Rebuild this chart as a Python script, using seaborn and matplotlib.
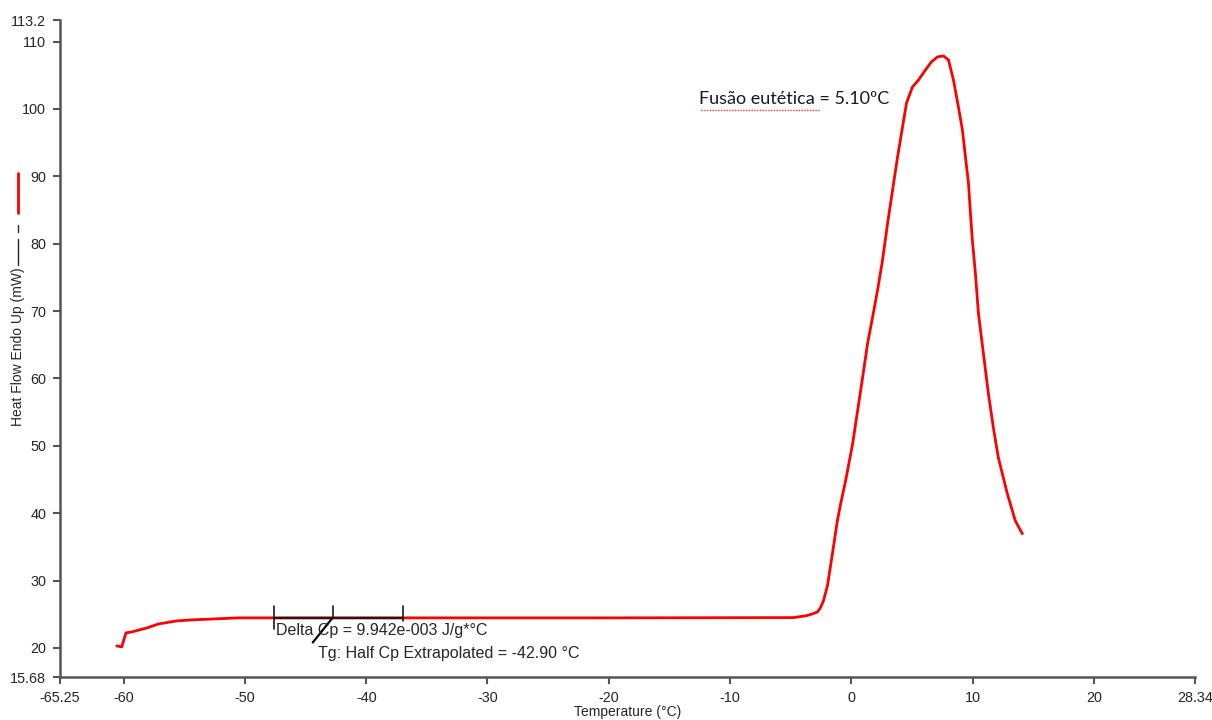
import matplotlib
matplotlib.use("Agg")
import matplotlib.pyplot as plt
from matplotlib.lines import Line2D
import seaborn as sns
import pandas as pd

# ---- data ----
temperature = [-60.57, -60.16, -59.81, -59.31, -58.08, -57.10, -55.61, -54.38, -50.51,
               -47.80, -37.09, -20.64, -4.76, -3.76, -3.18, -2.79, -2.55, -2.30, -1.97,
               -1.56, -1.15, -0.88, -0.47, 0.11, 0.52, 0.93, 1.34, 1.75, 2.16, 2.57,
               2.99, 3.40, 3.81, 4.22, 4.55, 5.04, 5.54, 6.11, 6.60, 7.10, 7.60, 8.01,
               8.42, 8.83, 9.16, 9.41, 9.66, 9.82, 9.98, 10.23, 10.48, 10.89, 11.30,
               11.71, 12.12, 12.86, 13.52, 14.10]
heat_flow = [20.30, 20.15, 22.23, 22.38, 22.97, 23.57, 24.01, 24.16, 24.46,
             24.46, 24.46, 24.46, 24.50, 24.76, 25.06, 25.35, 25.95, 26.99, 29.22,
             33.98, 38.88, 41.41, 44.83, 50.33, 55.24, 60.14, 65.20, 69.06, 73.08, 77.54,
             83.04, 87.95, 92.85, 97.31, 100.88, 103.26, 104.30, 105.79, 106.98, 107.72, 107.87, 107.27,
             104.30, 100.29, 96.87, 92.85, 88.99, 84.53, 80.51, 75.61, 69.66, 63.71, 57.76,
             52.71, 48.25, 42.90, 38.88, 36.95]

x_ticks = [-65.25, -60, -50, -40, -30, -20, -10, 0, 10, 20, 28.34]
x_tick_labels = ["-65.25", "-60", "-50", "-40", "-30", "-20", "-10", "0", "10", "20", "28.34"]
y_ticks = [15.68, 20, 30, 40, 50, 60, 70, 80, 90, 100, 110, 113.2]
y_tick_labels = ["15.68", "20", "30", "40", "50", "60", "70", "80", "90", "100", "110", "113.2"]

tg_bracket_x = [-47.63, -42.78, -36.94]
tg_baseline = 24.46
tg_tick_top = 26.24
tg_tick_bottom = [22.82, 24.46, 24.0]
tg_diag_x = [-44.41, -42.85]
tg_diag_y = [20.8, 24.3]

delta_cp_text = "Delta Cp = 9.942e-003 J/g*°C"
tg_text = "Tg: Half Cp Extrapolated = -42.90 °C"
fusion_text = "Fusão eutética = 5.10ºC"
x_label = "Temperature (°C)"
y_label = "Heat Flow Endo Up (mW)"

# ---- styling ----
sns.set_theme(style="white")
plt.rcParams["font.family"] = ["Liberation Sans", "DejaVu Sans"]

fig = plt.figure(figsize=(12.12, 7.2), dpi=100)
ax = fig.add_axes([0.0495, 0.0597, 0.9365, 0.9125])

df = pd.DataFrame({"T": temperature, "HF": heat_flow})
sns.lineplot(data=df, x="T", y="HF", sort=False, estimator=None,
             color="#ff0000", linewidth=2.0, ax=ax)

# Tg construction
ax.plot([tg_bracket_x[0], tg_bracket_x[-1]], [tg_baseline, tg_baseline],
        color="#1a1a1a", linewidth=1.6, zorder=3)
for xb, yb in zip(tg_bracket_x, tg_tick_bottom):
    ax.plot([xb, xb], [tg_tick_top, yb], color="#1a1a1a", linewidth=1.2, zorder=3)
ax.plot(tg_diag_x, tg_diag_y, color="#000000", linewidth=1.6, zorder=3)

ax.text(-47.45, 22.55, delta_cp_text, fontsize=11.5, color="#262626",
        va="center", ha="left")
ax.text(-44.0, 19.1, tg_text, fontsize=11.5, color="#262626",
        va="center", ha="left")

# Fusion annotation (Calibri-like) with spell-check style underline
ax.text(-12.55, 101.5, fusion_text, fontsize=13, color="#1a1a1a",
        va="center", ha="left", family=["Lato", "DejaVu Sans"])
ax.plot([-12.4, -2.55], [99.9, 99.9], color="#ff3030", linewidth=1.0,
        linestyle=(0, (1, 1)))

ax.set_xlim(x_ticks[0], x_ticks[-1])
ax.set_ylim(y_ticks[0], y_ticks[-1])
ax.set_xticks(x_ticks)
ax.set_xticklabels(x_tick_labels)
ax.set_yticks(y_ticks)
ax.set_yticklabels(y_tick_labels)
ax.set_xlabel("")
ax.set_ylabel("")

for s in ["top", "right"]:
    ax.spines[s].set_visible(False)
for s in ["left", "bottom"]:
    ax.spines[s].set_color("#555555")
    ax.spines[s].set_linewidth(1.8)
ax.tick_params(axis="both", which="both", direction="out", length=5, width=1.5,
               color="#555555", labelsize=10.4, labelcolor="#262626", pad=5,
               bottom=True, left=True)

fig.text(0.5175, 0.011, x_label, fontsize=10, color="#262626", ha="center", va="center")
fig.text(0.0145, 0.519, y_label, fontsize=10, color="#262626", ha="center", va="center",
         rotation=90)

# legend-like line samples next to the y label
def fig_vline(x_px, y0_px, y1_px, color, lw):
    fig.add_artist(Line2D([x_px / 1212, x_px / 1212], [1 - y0_px / 720, 1 - y1_px / 720],
                          color=color, linewidth=lw, transform=fig.transFigure))

fig_vline(17.5, 239, 265, "#262626", 1.0)
fig_vline(17.5, 225, 232, "#262626", 1.0)
fig_vline(17.5, 173, 213, "#ff0000", 2.0)

fig.savefig("out.png", dpi=100)
